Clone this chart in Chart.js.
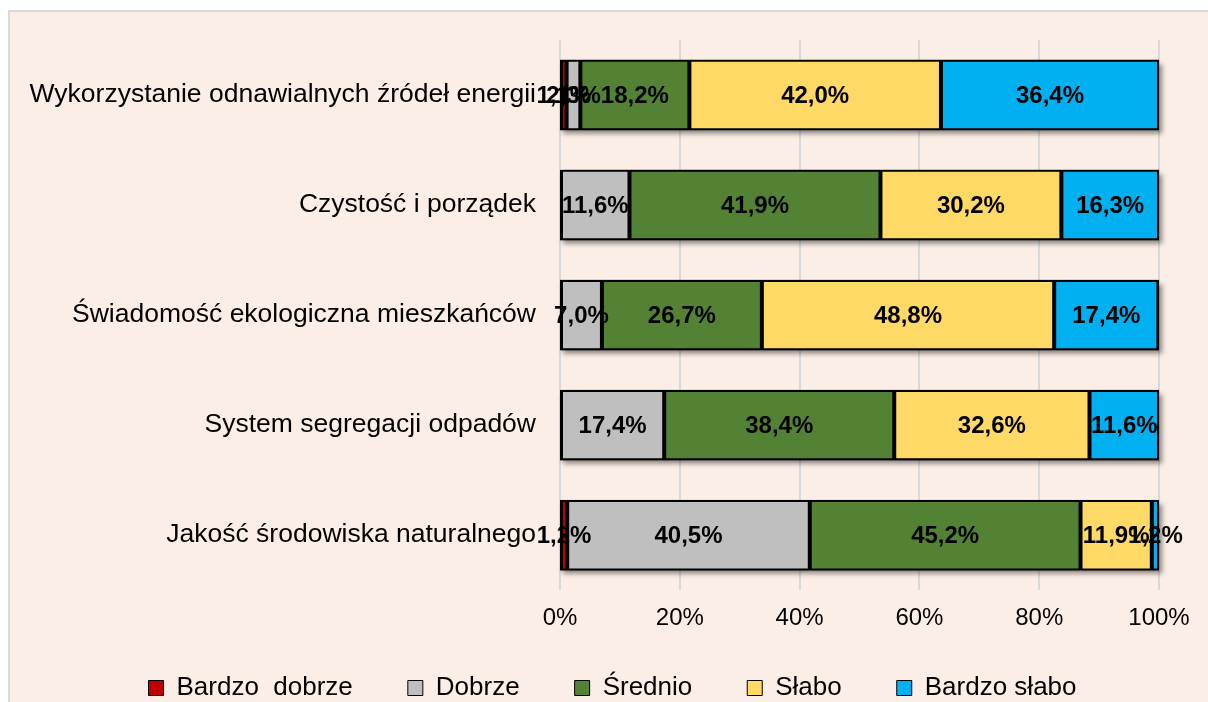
<!DOCTYPE html>
<html>
<head>
<meta charset="utf-8">
<script src="https://cdn.jsdelivr.net/npm/chart.js@4.4.1/dist/chart.umd.min.js"></script>
<style>
  html, body { margin: 0; padding: 0; background: #fff; }
  #frame { position: absolute; left: 8px; top: 10px; width: 1200px; height: 692px;
           background: #FBEEE6; border-left: 2px solid #D9D9D9; border-top: 2px solid #D9D9D9; box-sizing: border-box; }
  #wrap { position: absolute; left: 0; top: 0; width: 1208px; height: 702px; }
</style>
</head>
<body>
<div id="frame"></div>
<div id="wrap"><canvas id="ocena"></canvas></div>
<script>
// kategorie (oś Y)
const kategorie = [
  'Wykorzystanie odnawialnych źródeł energii',
  'Czystość i porządek',
  'Świadomość ekologiczna mieszkańców',
  'System segregacji odpadów',
  'Jakość środowiska naturalnego'
];
// odpowiedzi w %
const bardzoDobrze = [1.1, 0, 0, 0, 1.2];
const dobrze       = [2.3, 11.6, 7.0, 17.4, 40.5];
const srednio      = [18.2, 41.9, 26.7, 38.4, 45.2];
const slabo        = [42.0, 30.2, 48.8, 32.6, 11.9];
const bardzoSlabo  = [36.4, 16.3, 17.4, 11.6, 1.2];
const podzialkaX   = [0, 20, 40, 60, 80, 100];

const serie = [
  { label: 'Bardzo  dobrze', data: bardzoDobrze, kolor: '#C00000' },
  { label: 'Dobrze',         data: dobrze,       kolor: '#BFBFBF' },
  { label: 'Średnio',        data: srednio,      kolor: '#548235' },
  { label: 'Słabo',          data: slabo,        kolor: '#FFD966' },
  { label: 'Bardzo słabo',   data: bardzoSlabo,  kolor: '#00B0F0' }
];

// cień pod całym paskiem
const cien = {
  id: 'cien',
  beforeDatasetsDraw(chart) {
    const ctx = chart.ctx;
    const x = chart.scales.x;
    const meta = chart.getDatasetMeta(0);
    ctx.save();
    ctx.shadowColor = 'rgba(0,0,0,0.45)';
    ctx.shadowBlur = 5;
    ctx.shadowOffsetX = 3;
    ctx.shadowOffsetY = 4;
    ctx.fillStyle = '#000';
    meta.data.forEach(el => {
      const x0 = x.getPixelForValue(0);
      const x1 = x.getPixelForValue(100);
      ctx.fillRect(x0, el.y - el.height / 2, x1 - x0, el.height);
    });
    ctx.restore();
  }
};

// etykiety wartości na środku segmentów
const etykiety = {
  id: 'etykiety',
  afterDatasetsDraw(chart) {
    const ctx = chart.ctx;
    ctx.save();
    ctx.font = 'bold 24px "Liberation Sans", Arial, sans-serif';
    ctx.fillStyle = '#000';
    ctx.textAlign = 'center';
    ctx.textBaseline = 'middle';
    chart.data.datasets.forEach((ds, i) => {
      chart.getDatasetMeta(i).data.forEach((el, j) => {
        const v = ds.data[j];
        if (!v) return;
        const cx = (el.x + el.base) / 2;
        ctx.fillText(v.toFixed(1).replace('.', ',') + '%', cx, el.y + 1);
      });
    });
    ctx.restore();
  }
};

// legenda przesunięta jak w oryginale
const przesunLegende = {
  id: 'przesunLegende',
  afterLayout(chart) {
    const l = chart.legend;
    l.left += 33; l.right += 33;
    l.top -= 27;
  }
};

Chart.defaults.font.family = '"Liberation Sans", Arial, sans-serif';
Chart.defaults.color = '#000';

new Chart(document.getElementById('ocena'), {
  type: 'bar',
  data: {
    labels: kategorie,
    datasets: serie.map(s => ({
      label: s.label,
      data: s.data,
      backgroundColor: s.kolor,
      borderColor: '#000',
      borderWidth: 2,
      borderSkipped: false,
      categoryPercentage: 0.64,
      barPercentage: 1
    }))
  },
  options: {
    indexAxis: 'y',
    responsive: true,
    maintainAspectRatio: false,
    animation: false,
    layout: { padding: { top: 40, left: 0, right: 49, bottom: -15 } },
    scales: {
      x: {
        stacked: true,
        min: 0, max: 100,
        afterBuildTicks(scale) { scale.ticks = podzialkaX.map(v => ({ value: v })); },
        ticks: { callback: v => v + '%', font: { size: 24 }, padding: 14 },
        grid: { color: '#D9D9D9', lineWidth: 2, drawTicks: false },
        border: { display: false }
      },
      y: {
        stacked: true,
        afterFit(scale) { scale.width = 560; },
        ticks: { font: { size: 26.5 }, padding: 24 },
        grid: { display: false, drawTicks: false },
        border: { display: false }
      }
    },
    plugins: {
      tooltip: { enabled: false },
      legend: {
        position: 'bottom',
        maxHeight: 70,
        labels: {
          boxWidth: 15, boxHeight: 15, padding: 55,
          font: { size: 26 },
          generateLabels(chart) {
            const items = Chart.defaults.plugins.legend.labels.generateLabels(chart);
            items.forEach(it => { it.lineWidth = 1; });
            return items;
          }
        }
      }
    }
  },
  plugins: [cien, etykiety, przesunLegende]
});
</script>
</body>
</html>
